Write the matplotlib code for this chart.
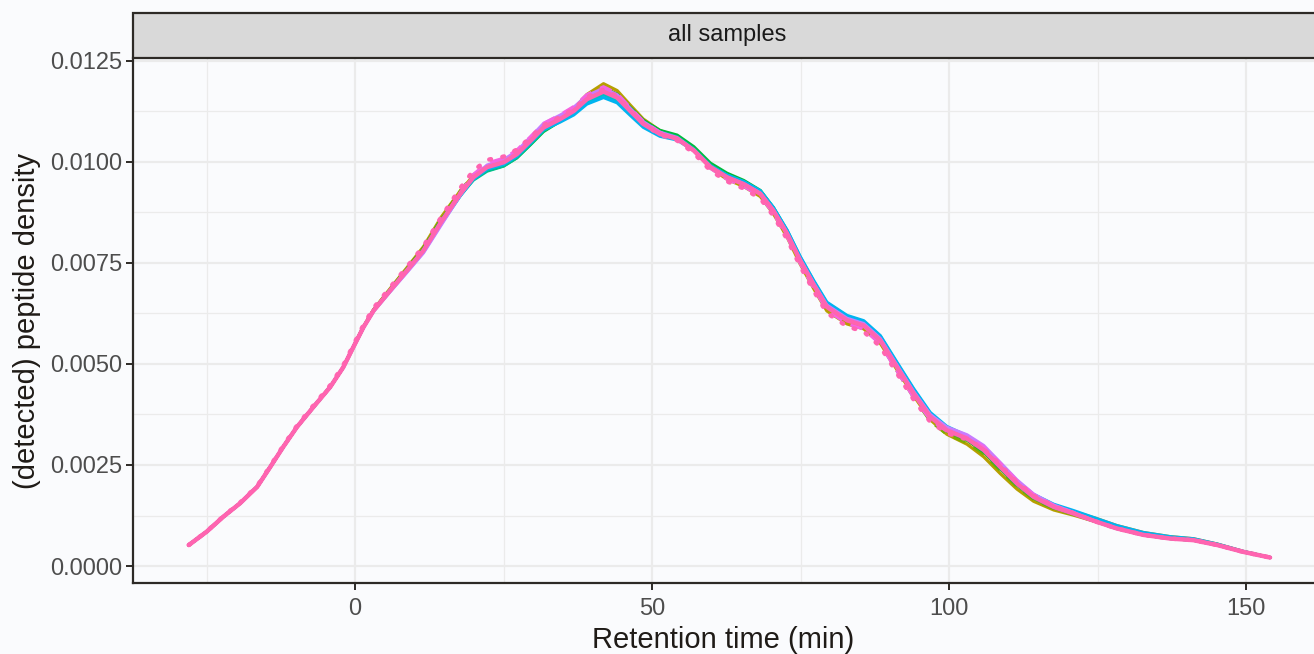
import numpy as np
import matplotlib.pyplot as plt
from matplotlib.patches import Rectangle

# retention time grid (min) and the shared density shape
rt = [-28.0, -25.0, -22.2, -19.4, -16.5, -14.3, -12.1, -9.8, -7.0, -4.2, -2.0, -0.3,
      1.4, 3.1, 5.9, 8.7, 11.5, 14.5, 17.7, 19.9, 22.2, 25.0, 27.2, 29.5, 31.7,
      34.5, 36.8, 39.0, 41.8, 44.1, 46.3, 48.5, 51.3, 54.2, 57.0, 59.8, 62.6, 65.4,
      68.2, 70.4, 72.7, 74.9, 77.2, 79.4, 82.8, 85.6, 88.4, 91.2, 94.0, 96.8, 99.6,
      103.0, 105.8, 108.6, 111.4, 114.2, 117.6, 120.9, 124.9, 128.2, 132.7, 137.2,
      141.1, 145.1, 149.5, 154.0]
density = [0.00052, 0.00085, 0.00122, 0.00155, 0.00196, 0.00245, 0.00295, 0.00344,
           0.00394, 0.00443, 0.00492, 0.00542, 0.00591, 0.00632, 0.00682, 0.00731,
           0.00781, 0.00852, 0.00921, 0.00962, 0.00987, 0.00999, 0.01019, 0.01052,
           0.01085, 0.01106, 0.01126, 0.01155, 0.01174, 0.01159, 0.01126, 0.01094,
           0.01069, 0.01057, 0.01028, 0.00987, 0.00962, 0.00945, 0.00921, 0.00879,
           0.00822, 0.00756, 0.00695, 0.00641, 0.00608, 0.00595, 0.00558, 0.00492,
           0.00427, 0.00369, 0.00336, 0.00315, 0.00287, 0.00245, 0.00204, 0.00171,
           0.00146, 0.0013, 0.00109, 0.00093, 0.00077, 0.00068, 0.00064, 0.00052,
           0.00035, 0.00021]

# per-sample deviations read at a few anchor times
anchor_rt = [-28, 0, 15, 22, 32, 42, 62, 80, 95, 107, 125, 154]
samples = ['s01', 's02', 's03', 's04', 's05', 's06',
           's07', 's08', 's09', 's10', 's11', 's12']
sample_colors = ['#F8766D', '#DE8C00', '#B79F00', '#7CAE00', '#00BA38', '#00C08B',
                 '#00BFC4', '#00B4F0', '#619CFF', '#C77CFF', '#F564E3', '#FF64B0']
sample_styles = ['-', '-', '-', '--', '-', '-', '-', '-', '--', '-', '--', 'dot']
sample_dev = [
    [0, 0, 0.00005, 0, 0, 0.00005, 0, 0, 0, 0.00005, 0.00005, 0],
    [0, 0, 0.00005, 0, -0.00005, 0.0001, 0, -0.00005, 0, -0.00005, 0.00008, 0],
    [0, 0, 0.00012, 0, -0.00008, 0.0002, -0.00005, -0.0001, -0.00005, -0.00018, 0, 0],
    [0, 0, 0.00008, 0.00005, 0, 0.00012, 0, -0.00005, -0.0001, -0.0001, 0, 0],
    [0, 0, 0.00005, -0.00008, -0.0001, 0.00008, 0.0001, 0.00005, 0, -0.00005, 0, 0],
    [0, 0, 0, -0.0001, -0.00008, 0.00005, 0.00005, 0.00005, 0, 0, 0, 0],
    [0, 0, 0, -0.00005, -0.00005, -0.00008, 0.00005, 0.0001, 0.0001, 0, 0.00005, 0],
    [0, 0, -0.00005, -0.00005, -0.00005, -0.00015, 0.00005, 0.00012, 0.00012, 0.00005, 0.00008, 0],
    [0, 0, 0, 0, 0.00005, 0, 0, 0, 0, 0.00005, 0, 0],
    [0, 0, -0.00008, 0.00005, 0.0001, 0.00008, 0, 0.00005, 0.00005, 0.00012, 0, 0],
    [0, 0, 0, 0.0001, 0.0001, 0.00012, -0.00005, -0.00008, -0.0001, 0.0001, 0, 0],
    [0, 0.00005, 0.00012, 0.00018, 0.00005, 0.00005, -0.0001, -0.00015, -0.00015, 0.00005, 0, 0],
]

bg = '#FAFBFD'
fig = plt.figure(figsize=(13.14, 6.54), dpi=100, facecolor=bg)
plt.rcParams['font.family'] = ['Liberation Sans', 'DejaVu Sans']

W, H = 1314, 654
ax = fig.add_axes([133 / W, 1 - 583 / H, (1314 - 133) / W, (583 - 58) / H])
ax.set_facecolor(bg)

x = np.array(rt)
base = np.array(density)
for name, col, ls, dev in zip(samples, sample_colors, sample_styles, sample_dev):
    y = base + np.interp(x, anchor_rt, dev)
    if ls == 'dot':
        ax.plot(x, y, color=col, linestyle=(0, (0.4, 2.6)), lw=3.2,
                dash_capstyle='round', zorder=5)
    else:
        ax.plot(x, y, color=col, linestyle=ls if ls == '-' else (0, (4, 3)), lw=2.3,
                solid_capstyle='round', zorder=3)
# the pink samples sit on top and look thicker
ax.plot(x, base, color='#FF64B0', lw=3.2, solid_capstyle='round', zorder=4)

ax.set_xlim(-37.4, 161.4)
ax.set_ylim(-0.00042, 0.01257)
ax.set_xticks([0, 50, 100, 150])
ax.set_yticks([0, 0.0025, 0.005, 0.0075, 0.01, 0.0125])
ax.set_yticklabels(['0.0000', '0.0025', '0.0050', '0.0075', '0.0100', '0.0125'])
ax.set_xticks([-25, 25, 75, 125], minor=True)
ax.set_yticks([0.00125, 0.00375, 0.00625, 0.00875, 0.01125], minor=True)
ax.grid(which='major', color='#EBEBEB', lw=1.6, zorder=0)
ax.grid(which='minor', color='#EBEBEB', lw=0.9, zorder=0)
ax.set_axisbelow(True)

for s in ['top', 'right']:
    ax.spines[s].set_visible(False)
for s in ['left', 'bottom']:
    ax.spines[s].set_color('#2D2A26')
    ax.spines[s].set_linewidth(1.6)
ax.tick_params(which='major', length=5, width=1.4, color='#2D2A26',
               labelsize=17, labelcolor='#4D4D4D', pad=3)
ax.tick_params(axis='x', which='major', pad=6)
ax.tick_params(which='minor', length=0)

ax.set_xlabel('Retention time (min)', fontsize=21, color='#1F1B17', labelpad=4)
ax.set_ylabel('(detected) peptide density', fontsize=21, color='#1F1B17', labelpad=6)

# facet strip
sax = fig.add_axes([133 / W, 1 - 58 / H, (1314 - 133) / W, (58 - 13) / H])
sax.set_xlim(0, 1)
sax.set_ylim(0, 1)
sax.axis('off')
sax.add_patch(Rectangle((0, 0), 1.2, 1, facecolor='#D9D9D9', edgecolor='#2D2A26',
                        lw=1.6, clip_on=False))
sax.text((727 - 133) / (1314 - 133), 0.5, 'all samples', ha='center', va='center',
         fontsize=17, color='#1A1A1A')

fig.savefig('out.png', dpi=100, facecolor=bg)
